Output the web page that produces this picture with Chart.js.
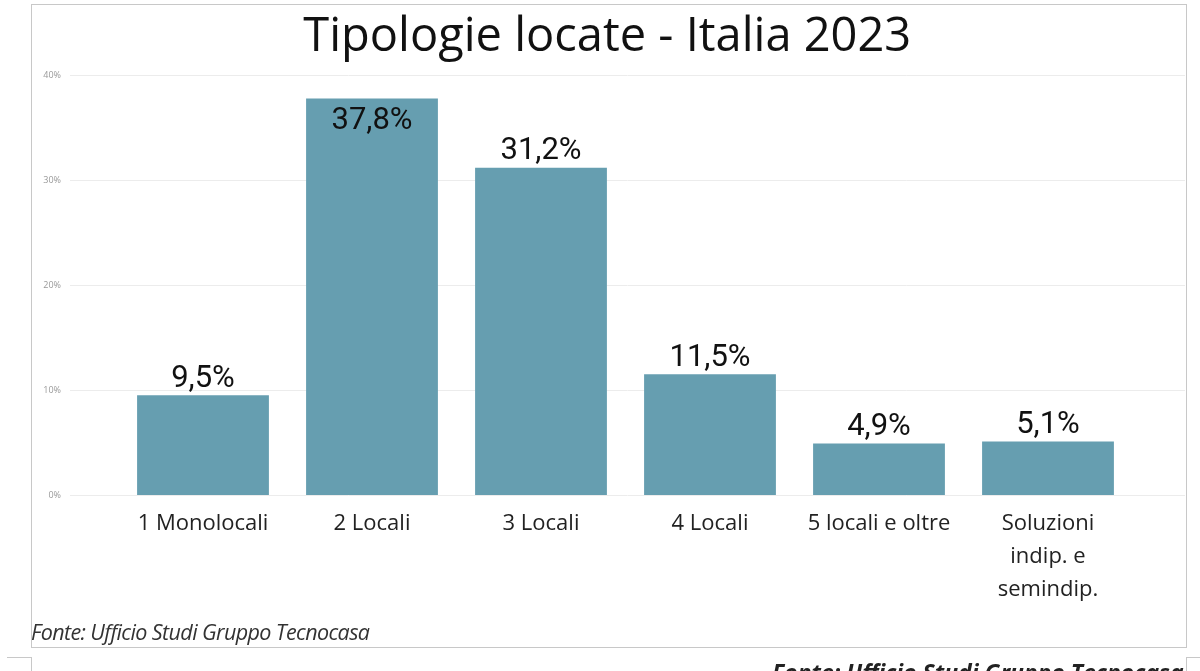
<!DOCTYPE html>
<html>
<head>
<meta charset="utf-8">
<script src="https://cdn.jsdelivr.net/npm/chart.js@4/dist/chart.umd.min.js"></script>
<style>
  html, body { margin: 0; padding: 0; background: #fff; }
  body { width: 1200px; height: 671px; position: relative; overflow: hidden; font-family: "Open Sans", "Noto Sans", sans-serif; }
  #box { position: absolute; left: 31px; top: 4px; width: 1154px; height: 642px; border: 1px solid #c8c8c8; }
  #wrap { position: absolute; left: 0; top: 0; width: 1200px; height: 671px; }
  #fonte { position: absolute; left: 31px; top: 617px; font-size: 21.5px; font-style: italic; color: #333; letter-spacing: -0.6px; }
  #lowL { position: absolute; left: 7px; top: 657px; width: 24px; height: 30px; border-top: 1px solid #c8c8c8; border-right: 1px solid #c8c8c8; }
  #lowR { position: absolute; left: 1186px; top: 657px; width: 30px; height: 30px; border-top: 1px solid #c8c8c8; border-left: 1px solid #c8c8c8; }
  #fonte2 { position: absolute; left: 772px; top: 656px; width: 413px; overflow: hidden; white-space: nowrap; font-size: 23px; font-weight: bold; font-style: italic; color: #222; }
</style>
</head>
<body>
<div id="box"></div>
<div id="wrap"><canvas id="myChart" width="1200" height="671"></canvas></div>
<div id="fonte">Fonte: Ufficio Studi Gruppo Tecnocasa</div>
<div id="lowL"></div>
<div id="lowR"></div>
<div id="fonte2">Fonte: Ufficio Studi Gruppo Tecnocasa</div>
<script>
// categorie e valori (percentuali)
let categorie = ["1 Monolocali", "2 Locali", "3 Locali", "4 Locali", "5 locali e oltre", ["Soluzioni", "indip. e", "semindip."]];
let valori = [9.5, 37.8, 31.2, 11.5, 4.9, 5.1];
let tickY = [0, 10, 20, 30, 40];

let titolo = "Tipologie locate - Italia 2023";
let colore = "#669eb0";

function formatta(v) {
    return v.toFixed(1).replace(".", ",") + "%";
}

// griglia orizzontale più larga dell'area del grafico
const grigliaPlugin = {
    id: "griglia",
    beforeDatasetsDraw(chart) {
        const ctx = chart.ctx;
        const y = chart.scales.y;
        ctx.save();
        ctx.strokeStyle = "#ececec";
        ctx.lineWidth = 1;
        tickY.forEach(t => {
            const py = Math.round(y.getPixelForValue(t)) + 0.5;
            ctx.beginPath();
            ctx.moveTo(70, py);
            ctx.lineTo(1185, py);
            ctx.stroke();
        });
        ctx.restore();
    }
};

// etichette sopra le barre
const etichettePlugin = {
    id: "etichette",
    afterDatasetsDraw(chart) {
        const ctx = chart.ctx;
        const meta = chart.getDatasetMeta(0);
        ctx.save();
        ctx.font = "31px Roboto";
        ctx.fillStyle = "#111";
        ctx.textAlign = "center";
        meta.data.forEach((bar, i) => {
            const v = valori[i];
            if (v > 35) {
                ctx.textBaseline = "top";
                ctx.fillText(formatta(v), bar.x, bar.y + 7);
            } else {
                ctx.textBaseline = "bottom";
                ctx.fillText(formatta(v), bar.x, bar.y - 1);
            }
        });
        ctx.restore();
    }
};

let myChart = new Chart(document.getElementById("myChart"), {
    type: "bar",
    data: {
        labels: categorie,
        datasets: [
            {
                label: "Tipologie locate",
                backgroundColor: colore,
                data: valori,
                categoryPercentage: 1,
                barPercentage: 0.78
            }
        ]
    },
    options: {
        responsive: false,
        animation: false,
        layout: { padding: { left: 38, right: 23.5, top: 0, bottom: 53 } },
        plugins: {
            legend: { display: false },
            tooltip: { enabled: false },
            title: {
                display: true,
                text: titolo,
                color: "#111",
                font: { family: "'Open Sans'", size: 47, weight: "normal" },
                padding: { top: 9, bottom: 10 }
            }
        },
        scales: {
            x: {
                grid: { display: false, drawTicks: false },
                border: { display: false },
                ticks: {
                    color: "#222",
                    font: { family: "'Open Sans'", size: 22, lineHeight: 1.5 },
                    padding: 12,
                    maxRotation: 0,
                    autoSkip: false
                }
            },
            y: {
                min: 0,
                max: 40,
                afterFit: function (scale) { scale.width = 80.5; },
                afterBuildTicks: function (scale) { scale.ticks = tickY.map(v => ({ value: v })); },
                grid: { display: false, drawTicks: false },
                border: { display: false },
                ticks: {
                    color: "#999",
                    font: { family: "'Open Sans'", size: 9 },
                    padding: 57.5,
                    callback: v => v + "%"
                }
            },
            // asse vuoto a destra, solo per lo spazio
            yDestra: {
                position: "right",
                min: 0,
                max: 40,
                afterFit: function (scale) { scale.width = 44; },
                grid: { display: false, drawTicks: false },
                border: { display: false },
                ticks: { display: false }
            }
        }
    },
    plugins: [grigliaPlugin, etichettePlugin]
});
</script>
</body>
</html>
